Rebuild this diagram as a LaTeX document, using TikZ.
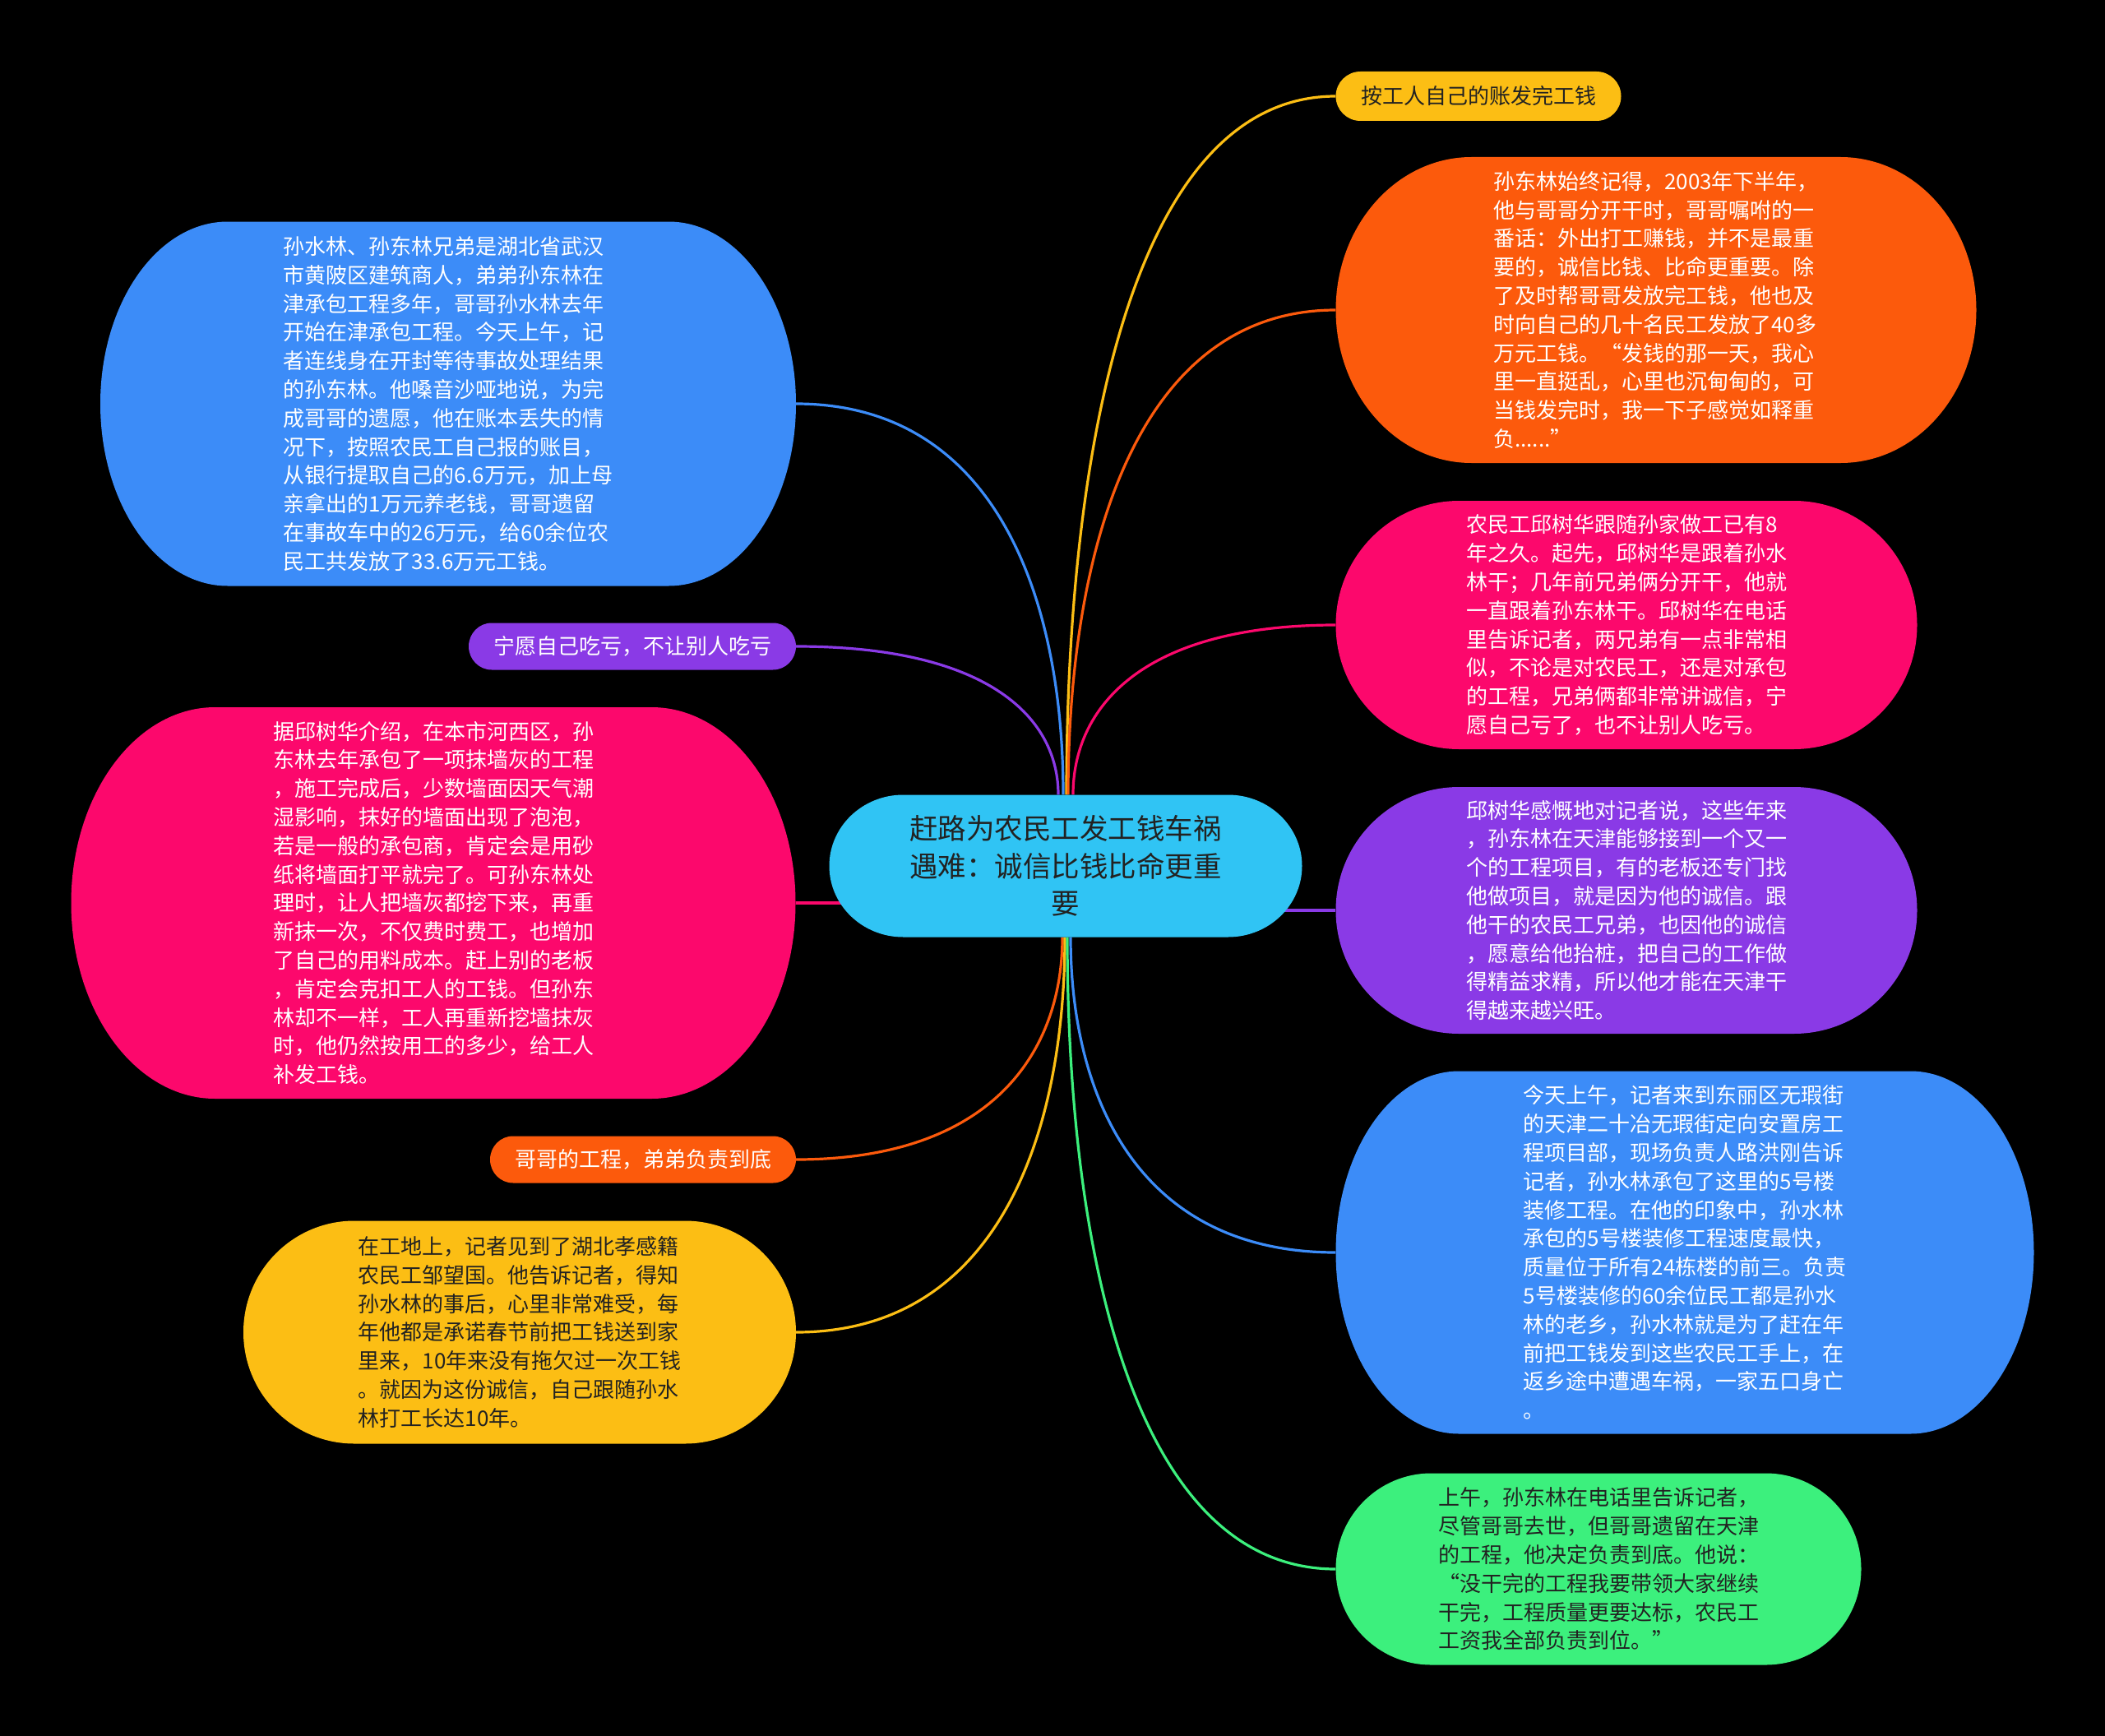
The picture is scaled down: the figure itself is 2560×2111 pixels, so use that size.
\documentclass[tikz,border=0pt]{standalone}
\usepackage{fontspec}
\newfontfamily\cjk{Noto Sans CJK SC}
\usetikzlibrary{calc,backgrounds}
\definecolor{cBlue}{RGB}{60,140,248}
\definecolor{cOrange}{RGB}{252,90,12}
\definecolor{cPink}{RGB}{252,8,108}
\definecolor{cPurple}{RGB}{138,58,230}
\definecolor{cYellow}{RGB}{252,190,20}
\definecolor{cGreen}{RGB}{60,240,125}
\definecolor{cCyan}{RGB}{48,196,244}
\definecolor{cDark}{RGB}{34,34,34}
% elliptical-corner bubble: #1 colour, #2 cx, #3 cy, #4 w, #5 h, #6 rx
\newcommand{\bubble}[6]{%
  \pgfmathsetmacro{\bbL}{#2-#4/2}%
  \pgfmathsetmacro{\bbR}{#2+#4/2}%
  \pgfmathsetmacro{\bbT}{#3-#5/2}%
  \pgfmathsetmacro{\bbB}{#3+#5/2}%
  \pgfmathsetmacro{\bbK}{0.5523*#6}%
  \pgfmathsetmacro{\bbKy}{0.5523*#5/2}%
  \fill[#1] (\bbL+#6,\bbT) -- (\bbR-#6,\bbT)
    .. controls (\bbR-#6+\bbK,\bbT) and (\bbR,#3-\bbKy) .. (\bbR,#3)
    .. controls (\bbR,#3+\bbKy) and (\bbR-#6+\bbK,\bbB) .. (\bbR-#6,\bbB)
    -- (\bbL+#6,\bbB)
    .. controls (\bbL+#6-\bbK,\bbB) and (\bbL,#3+\bbKy) .. (\bbL,#3)
    .. controls (\bbL,#3-\bbKy) and (\bbL+#6-\bbK,\bbT) .. cycle;
}
% curved connector: #1 colour, #2 start, #3 end
\newcommand{\conn}[3]{%
  \path (#2) coordinate (cnS) (#3) coordinate (cnE);
  \coordinate (cnA) at ($(cnS)!0.5!(cnE)$);
  \coordinate (cnB) at ($(cnS)!0.25!(cnE)$);
  \draw[link,#1] (cnS) .. controls (cnS |- cnA) and (cnB |- cnE) .. (cnE);
}
\tikzset{
  link/.style={line width=3.2pt},
  wtxt/.style={font=\cjk\fontsize{26}{34.8}\selectfont, align=left, inner sep=0pt, text=white},
  dtxt/.style={wtxt, text=cDark},
  stxt/.style={font=\cjk\fontsize{26}{34.8}\selectfont, align=center, inner sep=0pt},
  ttxt/.style={font=\cjk\fontsize{34.5}{45.7}\selectfont, align=center, inner sep=0pt, text=cDark}
}
\begin{document}
\begin{tikzpicture}[x=1pt,y=-1pt]
\useasboundingbox (0,0) rectangle (2560,2111);
\begin{pgfonlayer}{background}
  \fill[black] (0,0) rectangle (2560,2111);
\end{pgfonlayer}

% bubbles
\bubble{cCyan}{1296}{1053}{575}{173}{90}
\bubble{cYellow}{1798}{117}{347}{60}{30}
\bubble{cOrange}{2014}{377}{779}{372}{165}
\bubble{cPink}{1978}{760}{707}{302}{150}
\bubble{cPurple}{1978}{1107}{707}{300}{150}
\bubble{cBlue}{2049}{1523}{849}{441}{150}
\bubble{cGreen}{1944}{1908}{639}{233}{116}
\bubble{cBlue}{545}{491}{846}{443}{155}
\bubble{cPurple}{769}{786}{398}{57}{28}
\bubble{cPink}{527}{1098}{881}{476}{175}
\bubble{cOrange}{782}{1410}{372}{57}{28}
\bubble{cYellow}{632}{1620}{672}{271}{135}

% nodes
\node[ttxt, minimum width=575pt, minimum height=173pt] (c) at (1296,1053)
  {赶路为农民工发工钱车祸\\遇难：诚信比钱比命更重\\要};

\node[stxt, text=cDark, minimum width=347pt, minimum height=60pt] (yT) at (1798,117)
  {按工人自己的账发完工钱};

\node[wtxt, minimum width=779pt, minimum height=372pt] (oR) at (2014,377)
  {孙东林始终记得，2003年下半年，\\他与哥哥分开干时，哥哥嘱咐的一\\番话：外出打工赚钱，并不是最重\\要的，诚信比钱、比命更重要。除\\了及时帮哥哥发放完工钱，他也及\\时向自己的几十名民工发放了40多\\万元工钱。“发钱的那一天，我心\\里一直挺乱，心里也沉甸甸的，可\\当钱发完时，我一下子感觉如释重\\负......”};

\node[wtxt, minimum width=707pt, minimum height=302pt] (pR) at (1978,760)
  {农民工邱树华跟随孙家做工已有8\\年之久。起先，邱树华是跟着孙水\\林干；几年前兄弟俩分开干，他就\\一直跟着孙东林干。邱树华在电话\\里告诉记者，两兄弟有一点非常相\\似，不论是对农民工，还是对承包\\的工程，兄弟俩都非常讲诚信，宁\\愿自己亏了，也不让别人吃亏。};

\node[wtxt, minimum width=707pt, minimum height=300pt] (uR) at (1978,1107)
  {邱树华感慨地对记者说，这些年来\\，孙东林在天津能够接到一个又一\\个的工程项目，有的老板还专门找\\他做项目，就是因为他的诚信。跟\\他干的农民工兄弟，也因他的诚信\\，愿意给他抬桩，把自己的工作做\\得精益求精，所以他才能在天津干\\得越来越兴旺。};

\node[wtxt, minimum width=849pt, minimum height=441pt] (bR) at (2049,1523)
  {今天上午，记者来到东丽区无瑕街\\的天津二十冶无瑕街定向安置房工\\程项目部，现场负责人路洪刚告诉\\记者，孙水林承包了这里的5号楼\\装修工程。在他的印象中，孙水林\\承包的5号楼装修工程速度最快，\\质量位于所有24栋楼的前三。负责\\5号楼装修的60余位民工都是孙水\\林的老乡，孙水林就是为了赶在年\\前把工钱发到这些农民工手上，在\\返乡途中遭遇车祸，一家五口身亡\\。};

\node[dtxt, minimum width=639pt, minimum height=233pt] (gR) at (1944,1908)
  {上午，孙东林在电话里告诉记者，\\尽管哥哥去世，但哥哥遗留在天津\\的工程，他决定负责到底。他说：\\“没干完的工程我要带领大家继续\\干完，工程质量更要达标，农民工\\工资我全部负责到位。”};

\node[wtxt, minimum width=846pt, minimum height=443pt] (bL) at (545,491)
  {孙水林、孙东林兄弟是湖北省武汉\\市黄陂区建筑商人，弟弟孙东林在\\津承包工程多年，哥哥孙水林去年\\开始在津承包工程。今天上午，记\\者连线身在开封等待事故处理结果\\的孙东林。他嗓音沙哑地说，为完\\成哥哥的遗愿，他在账本丢失的情\\况下，按照农民工自己报的账目，\\从银行提取自己的6.6万元，加上母\\亲拿出的1万元养老钱，哥哥遗留\\在事故车中的26万元，给60余位农\\民工共发放了33.6万元工钱。};

\node[stxt, text=white, minimum width=398pt, minimum height=57pt] (uL) at (769,786)
  {宁愿自己吃亏，不让别人吃亏};

\node[wtxt, minimum width=881pt, minimum height=476pt] (pL) at (527,1098)
  {据邱树华介绍，在本市河西区，孙\\东林去年承包了一项抹墙灰的工程\\，施工完成后，少数墙面因天气潮\\湿影响，抹好的墙面出现了泡泡，\\若是一般的承包商，肯定会是用砂\\纸将墙面打平就完了。可孙东林处\\理时，让人把墙灰都挖下来，再重\\新抹一次，不仅费时费工，也增加\\了自己的用料成本。赶上别的老板\\，肯定会克扣工人的工钱。但孙东\\林却不一样，工人再重新挖墙抹灰\\时，他仍然按用工的多少，给工人\\补发工钱。};

\node[stxt, text=white, minimum width=372pt, minimum height=57pt] (oL) at (782,1410)
  {哥哥的工程，弟弟负责到底};

\node[dtxt, minimum width=672pt, minimum height=271pt] (yL) at (632,1620)
  {在工地上，记者见到了湖北孝感籍\\农民工邹望国。他告诉记者，得知\\孙水林的事后，心里非常难受，每\\年他都是承诺春节前把工钱送到家\\里来，10年来没有拖欠过一次工钱\\。就因为这份诚信，自己跟随孙水\\林打工长达10年。};

% connectors
\begin{pgfonlayer}{background}
  \conn{cPurple}{[xshift=-9pt]c.north}{uL.east}
  \conn{cBlue}{[xshift=-3pt]c.north}{bL.east}
  \conn{cYellow}{[xshift=1pt]c.north}{yT.west}
  \conn{cOrange}{[xshift=3pt]c.north}{oR.west}
  \conn{cPink}{[xshift=9pt]c.north}{pR.west}
  \conn{cOrange}{[xshift=-4pt]c.south}{oL.east}
  \conn{cYellow}{[xshift=-1pt]c.south}{yL.east}
  \conn{cGreen}{[xshift=2pt]c.south}{gR.west}
  \conn{cBlue}{[xshift=6pt]c.south}{bR.west}
  \draw[link,cPink] (c.center |- pL.east) -- (pL.east);
  \draw[link,cPurple] (c.center |- uR.west) -- (uR.west);
\end{pgfonlayer}
\end{tikzpicture}
\end{document}
